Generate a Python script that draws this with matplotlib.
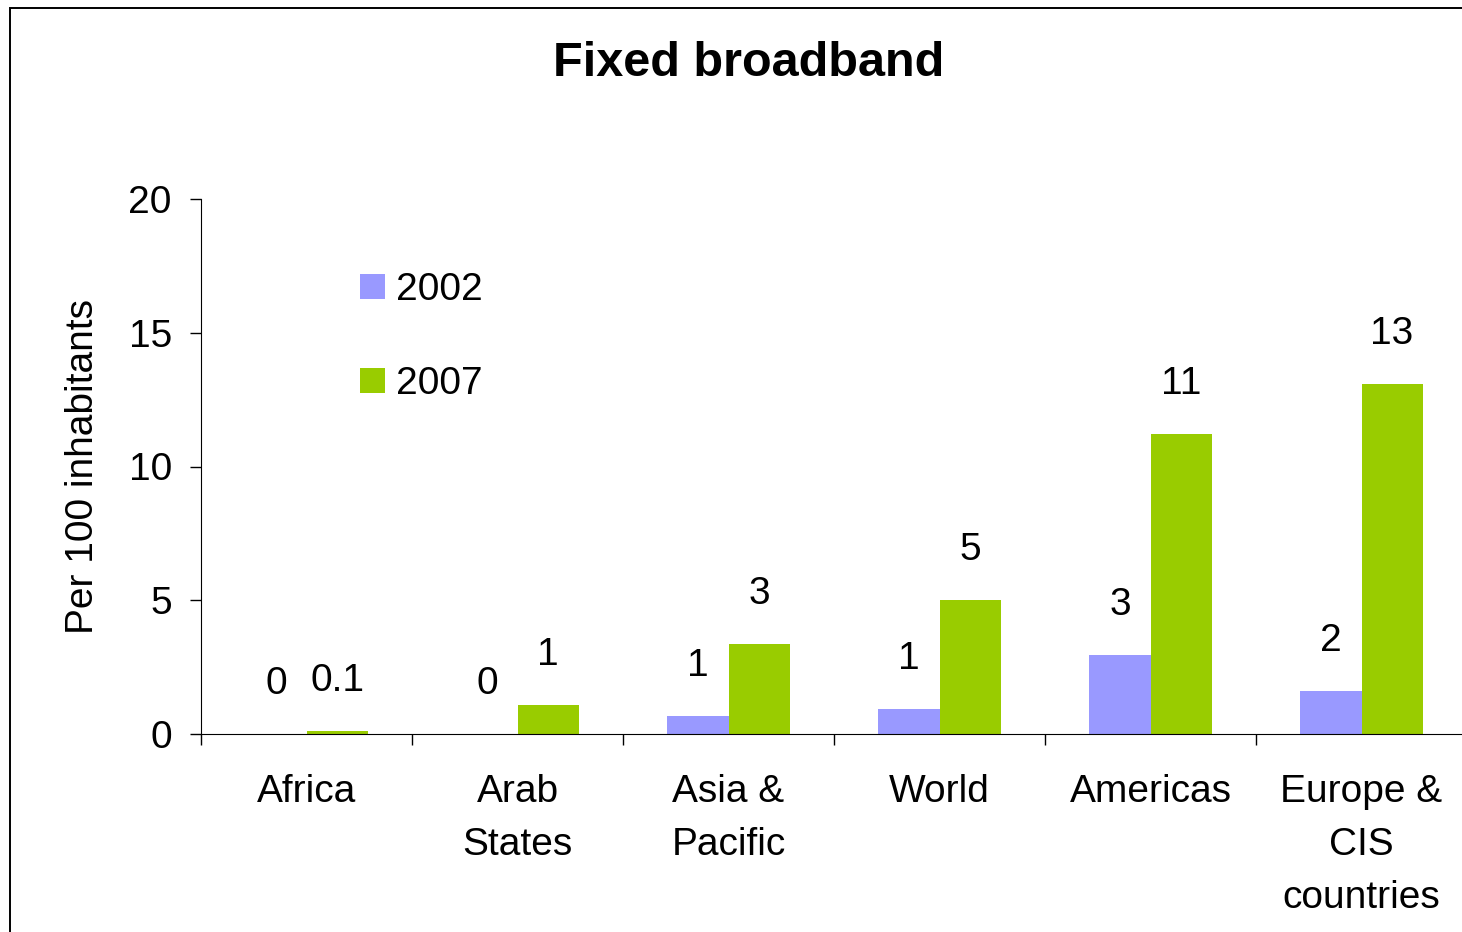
import numpy as np
import matplotlib
matplotlib.use("Agg")
import matplotlib.pyplot as plt
from matplotlib.patches import Rectangle

plt.rcParams['font.family'] = ['Liberation Sans', 'DejaVu Sans']

regions = ["Africa", "Arab\nStates", "Asia &\nPacific", "World", "Americas", "Europe &\nCIS\ncountries"]
vals_2002 = [0.0, 0.0, 0.67, 0.93, 2.95, 1.6]
vals_2007 = [0.1, 1.08, 3.36, 5.0, 11.2, 13.1]
labels_2002 = ["0", "0", "1", "1", "3", "2"]
labels_2007 = ["0.1", "1", "3", "5", "11", "13"]
col_2002 = "#9999ff"
col_2007 = "#99cc00"
fs = 28

fig = plt.figure(figsize=(14.62, 9.32), dpi=100)
ax = fig.add_axes([201/1462, 198/932, 1266/1462, 535/932])

x = np.arange(len(regions)) + 0.5
w = 0.29
b1 = ax.bar(x - w/2, vals_2002, w, color=col_2002, label="2002")
b2 = ax.bar(x + w/2, vals_2007, w, color=col_2007, label="2007")

# value labels above the bars
for bars, labs in ((b1, labels_2002), (b2, labels_2007)):
    for bar, lab in zip(bars, labs):
        ax.annotate(lab, (bar.get_x() + bar.get_width()/2, bar.get_height()),
                    xytext=(0, 36), textcoords="offset points",
                    ha="center", va="center", fontsize=fs)

ax.set_xlim(0, len(regions))
ax.set_ylim(0, 20)
ax.set_yticks([0, 5, 10, 15, 20])
# ticks on category borders, names in the middle
ax.set_xticks(np.arange(len(regions) + 1))
ax.set_xticklabels([])
ax.set_xticks(x, minor=True)
ax.set_xticklabels(regions, minor=True, fontsize=fs, linespacing=1.6)
ax.tick_params(axis="x", which="major", direction="out", length=8, width=1)
ax.tick_params(axis="x", which="minor", length=0, pad=29)
ax.tick_params(axis="y", direction="out", length=8, width=1, labelsize=fs, pad=13)

ax.spines["top"].set_visible(False)
ax.spines["right"].set_visible(False)
ax.set_ylabel("Per 100 inhabitants", fontsize=fs, labelpad=20)

ax.legend(loc="upper left", bbox_to_anchor=(0.110, 0.900), frameon=False,
          fontsize=fs, handlelength=0.64, handleheight=0.6,
          handletextpad=0.3, labelspacing=1.5, borderpad=0)

fig.text(749/1462, 1 - 64/932, "Fixed broadband", ha="center", va="center",
         fontsize=35, fontweight="bold")

fig.patches.append(Rectangle((10/1462, -0.1), 1.2, 1.1 - 8/932, transform=fig.transFigure,
                             fill=False, edgecolor="black", linewidth=1.4))

fig.savefig("out.png", dpi=100)
